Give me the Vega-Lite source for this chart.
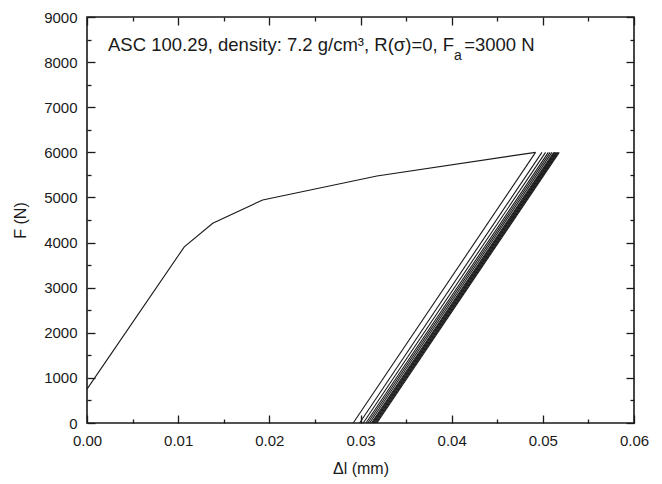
{
  "$schema": "https://vega.github.io/schema/vega-lite/v6.json",
  "width": 547,
  "height": 406,
  "autosize": {"type": "none"},
  "padding": {"left": 87, "top": 17, "right": 28, "bottom": 61},
  "background": "white",
  "config": {
    "view": {"stroke": "#1a1a1a", "strokeWidth": 1.6},
    "font": "Liberation Sans",
    "axis": {
      "grid": false,
      "domain": false,
      "labelFlush": false,
      "labelOverlap": false,
      "tickColor": "#1a1a1a",
      "tickWidth": 1.3,
      "labelFont": "Liberation Sans",
      "labelFontSize": 15,
      "labelColor": "#1a1a1a",
      "titleFont": "Liberation Sans",
      "titleFontSize": 16,
      "titleFontWeight": "normal",
      "titleColor": "#1a1a1a"
    }
  },
  "datasets": {
    "curve": [
      {"x": 0.0, "y": 750},
      {"x": 0.01067, "y": 3905},
      {"x": 0.01379, "y": 4428},
      {"x": 0.01927, "y": 4945},
      {"x": 0.0318, "y": 5477},
      {"x": 0.0492, "y": 6000}
    ],
    "cycles": [
      {"c": 1, "x": 0.0492, "y": 6000}, {"c": 1, "x": 0.0292, "y": 0},
      {"c": 2, "x": 0.0499, "y": 6000}, {"c": 2, "x": 0.0299, "y": 0},
      {"c": 3, "x": 0.0503, "y": 6000}, {"c": 3, "x": 0.0303, "y": 0},
      {"c": 4, "x": 0.0506, "y": 6000}, {"c": 4, "x": 0.0306, "y": 0},
      {"c": 5, "x": 0.0508, "y": 6000}, {"c": 5, "x": 0.0308, "y": 0},
      {"c": 6, "x": 0.0510, "y": 6000}, {"c": 6, "x": 0.0310, "y": 0},
      {"c": 7, "x": 0.0512, "y": 6000}, {"c": 7, "x": 0.0312, "y": 0},
      {"c": 8, "x": 0.0513, "y": 6000}, {"c": 8, "x": 0.0313, "y": 0},
      {"c": 9, "x": 0.0514, "y": 6000}, {"c": 9, "x": 0.0314, "y": 0},
      {"c": 10, "x": 0.0515, "y": 6000}, {"c": 10, "x": 0.0315, "y": 0},
      {"c": 11, "x": 0.0516, "y": 6000}, {"c": 11, "x": 0.0316, "y": 0},
      {"c": 12, "x": 0.0517, "y": 6000}, {"c": 12, "x": 0.0317, "y": 0},
      {"c": 13, "x": 0.0518, "y": 6000}, {"c": 13, "x": 0.0318, "y": 0}
    ],
    "label1": [{"x": 0.0023, "y": 8238, "t": "ASC 100.29, density: 7.2 g/cm³, R(σ)=0, F"}],
    "label2": [{"x": 0.04025, "y": 8054, "t": "a"}],
    "label3": [{"x": 0.0491, "y": 8238, "t": "=3000 N"}]
  },
  "resolve": {"axis": {"x": "independent", "y": "independent"}},
  "layer": [
    {
      "data": {"name": "curve"},
      "mark": {"type": "line", "color": "#1a1a1a", "strokeWidth": 1.1},
      "encoding": {
        "x": {"field": "x", "type": "quantitative",
          "scale": {"domain": [0, 0.06], "nice": false, "zero": false},
          "axis": {"orient": "bottom", "values": [0, 0.01, 0.02, 0.03, 0.04, 0.05, 0.06], "format": ".2f", "offset": -8, "tickSize": 8, "labelPadding": 10, "title": "Δl (mm)", "titlePadding": 12}},
        "y": {"field": "y", "type": "quantitative",
          "scale": {"domain": [0, 9000], "nice": false, "zero": false},
          "axis": {"orient": "left", "values": [0, 1000, 2000, 3000, 4000, 5000, 6000, 7000, 8000, 9000], "format": "d", "offset": -8, "tickSize": 8, "labelPadding": 10, "title": "F (N)", "titlePadding": 15}}
      }
    },
    {
      "data": {"name": "cycles"},
      "mark": {"type": "line", "color": "#1a1a1a", "strokeWidth": 1.1},
      "encoding": {
        "detail": {"field": "c", "type": "nominal"},
        "x": {"field": "x", "type": "quantitative",
          "axis": {"orient": "top", "values": [0, 0.01, 0.02, 0.03, 0.04, 0.05, 0.06], "labels": false, "offset": -8, "tickSize": 8, "title": null}},
        "y": {"field": "y", "type": "quantitative",
          "axis": {"orient": "right", "values": [0, 1000, 2000, 3000, 4000, 5000, 6000, 7000, 8000, 9000], "labels": false, "offset": -8, "tickSize": 8, "title": null}}
      }
    },
    {
      "data": {"name": "label1"},
      "mark": {"type": "text", "align": "left", "baseline": "alphabetic", "fontSize": 18.5, "font": "Liberation Sans", "color": "#1a1a1a"},
      "encoding": {
        "text": {"field": "t"},
        "x": {"field": "x", "type": "quantitative",
          "axis": {"orient": "bottom", "values": [0.005, 0.015, 0.025, 0.035, 0.045, 0.055], "labels": false, "offset": -4, "tickSize": 4, "title": null}},
        "y": {"field": "y", "type": "quantitative",
          "axis": {"orient": "left", "values": [500, 1500, 2500, 3500, 4500, 5500, 6500, 7500, 8500], "labels": false, "offset": -4, "tickSize": 4, "title": null}}
      }
    },
    {
      "data": {"name": "label2"},
      "mark": {"type": "text", "align": "left", "baseline": "alphabetic", "fontSize": 14, "font": "Liberation Sans", "color": "#1a1a1a"},
      "encoding": {
        "text": {"field": "t"},
        "x": {"field": "x", "type": "quantitative",
          "axis": {"orient": "top", "values": [0.005, 0.015, 0.025, 0.035, 0.045, 0.055], "labels": false, "offset": -4, "tickSize": 4, "title": null}},
        "y": {"field": "y", "type": "quantitative",
          "axis": {"orient": "right", "values": [500, 1500, 2500, 3500, 4500, 5500, 6500, 7500, 8500], "labels": false, "offset": -4, "tickSize": 4, "title": null}}
      }
    },
    {
      "data": {"name": "label3"},
      "mark": {"type": "text", "align": "right", "baseline": "alphabetic", "fontSize": 18.5, "font": "Liberation Sans", "color": "#1a1a1a"},
      "encoding": {
        "text": {"field": "t"},
        "x": {"field": "x", "type": "quantitative", "axis": null},
        "y": {"field": "y", "type": "quantitative", "axis": null}
      }
    }
  ]
}
